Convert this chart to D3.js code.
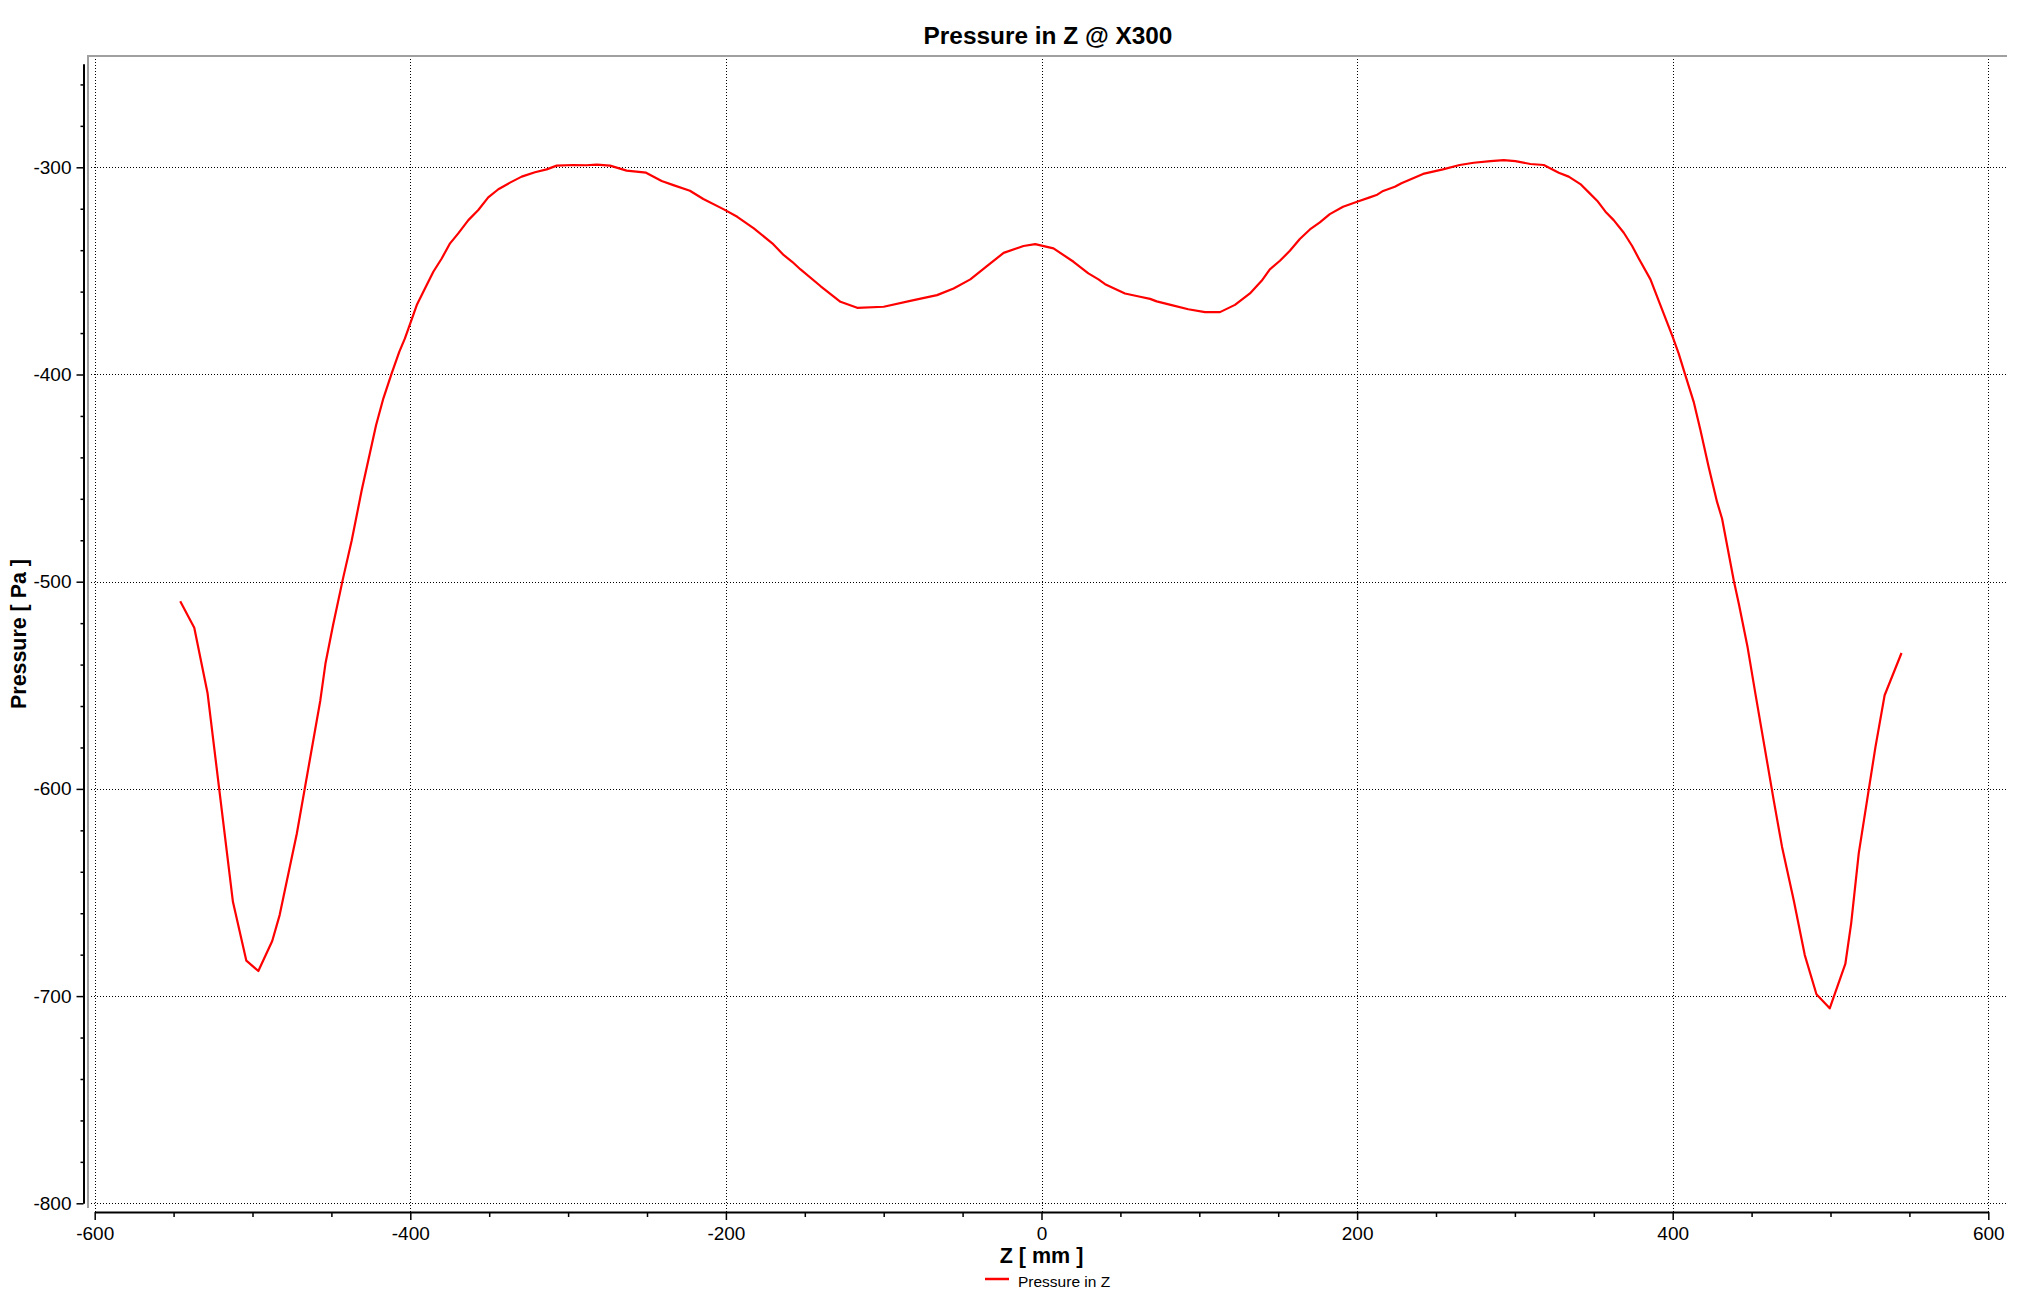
<!DOCTYPE html>
<html>
<head>
<meta charset="utf-8">
<script src="https://cdn.jsdelivr.net/npm/d3@7"></script>
<style>
	html, body { margin: 0; padding: 0; background: #fff; }
	svg { display: block; }
	.tick text { font-family: "Liberation Sans", Arial, sans-serif; fill: #000; }
</style>
</head>
<body>
<svg id="chart" width="2029" height="1309"></svg>
<script>
// values
var z_values = [
	-545.8, -536.9, -528.5, -512.4, -503.9, -496.3, -487.5, -482.8, -471.9, -457.0,
	-453.7, -449.0, -442.8, -437.1, -430.8, -421.7, -417.1, -411.8, -407.0, -403.4,
	-395.9, -390.7, -385.4, -380.1, -374.8, -369.6, -363.2, -356.9, -350.6, -344.2,
	-336.8, -329.4, -321.0, -313.6, -307.2, -296.7, -288.2, -281.9, -273.4, -262.9,
	-250.6, -240.7, -233.3, -222.8, -214.3, -201.3, -192.8, -182.3, -170.6, -163.3,
	-158.0, -152.7, -140.1, -127.4, -116.8, -100.0, -81.0, -66.2, -55.7, -45.1,
	-34.6, -24.0, -11.4, -4.0, 7.6, 20.3, 29.7, 36.1, 40.3, 52.9,
	62.5, 68.8, 73.0, 82.5, 93.0, 103.6, 113.1, 122.6, 132.1, 139.5,
	144.7, 151.1, 157.4, 163.7, 170.1, 176.4, 182.7, 191.1, 200.0, 208.0,
	212.3, 216.5, 223.9, 228.1, 241.8, 254.4, 265.0, 273.9, 284.5, 292.9,
	300.3, 309.8, 318.3, 327.8, 334.1, 341.5, 346.8, 352.1, 357.4, 362.6,
	369.0, 374.3, 378.5, 385.9, 392.2, 400.0, 403.8, 408.0, 413.3, 417.6,
	422.8, 428.1, 431.3, 434.5, 438.7, 442.0, 447.5, 452.4, 464.0, 469.3,
	476.7, 483.7, 491.1, 499.5, 509.4, 513.1, 517.9, 523.2, 528.5, 534.3,
	545.0
];
var pressure_values = [
	-509.4, -522.2, -553.7, -654.5, -682.9, -687.9, -673.4, -660.9, -621.5, -557.2,
	-539.2, -521.1, -499.0, -480.0, -455.9, -424.5, -411.6, -399.5, -389.1, -382.6,
	-366.5, -358.5, -350.4, -344.0, -336.7, -331.9, -325.5, -320.6, -314.5, -310.6,
	-307.4, -304.5, -302.4, -301.0, -299.2, -298.9, -299.0, -298.7, -299.2, -301.6,
	-302.6, -306.6, -308.6, -311.3, -315.3, -320.3, -323.9, -329.5, -336.7, -342.4,
	-345.6, -349.3, -357.3, -364.9, -367.8, -367.3, -364.1, -361.7, -358.5, -354.1,
	-347.7, -341.3, -338.0, -337.1, -339.1, -345.6, -351.2, -354.1, -356.4, -360.9,
	-362.5, -363.5, -364.7, -366.5, -368.5, -369.9, -369.9, -366.4, -360.9, -354.8,
	-349.3, -345.1, -340.3, -334.6, -330.0, -326.6, -322.6, -319.0, -316.6, -314.5,
	-313.4, -311.4, -309.4, -307.7, -303.2, -301.0, -298.9, -297.8, -297.0, -296.5,
	-297.0, -298.4, -298.9, -302.6, -304.5, -308.1, -312.1, -316.1, -321.4, -325.5,
	-331.6, -338.0, -344.0, -354.1, -366.5, -381.8, -389.9, -400.3, -413.2, -426.9,
	-444.6, -461.5, -469.6, -482.5, -499.4, -511.0, -531.8, -554.0, -605.4, -628.0,
	-653.7, -680.2, -699.1, -705.9, -684.5, -664.9, -631.1, -605.4, -579.7, -554.8,
	-534.4
];

var x_major_ticks = [-600, -400, -200, 0, 200, 400, 600];
var x_minor_ticks = [-550, -500, -450, -350, -300, -250, -150, -100, -50, 50, 100, 150, 250, 300, 350, 450, 500, 550];
var y_major_ticks = [-300, -400, -500, -600, -700, -800];
var y_minor_ticks = d3.range(-260, -800, -20).filter(function(d) { return d % 100 != 0; });

var chart_title = 'Pressure in Z @ X300';
var x_title = 'Z [ mm ]';
var y_title = 'Pressure [ Pa ]';
var series_name = 'Pressure in Z';

var FONT = '"Liberation Sans", Arial, sans-serif';
var PLOT_LEFT = 88, PLOT_RIGHT = 2006, PLOT_TOP = 56, PLOT_BOTTOM = 1212;
var LINE_COLOR = '#ff0000';

// plain hyphen minus like the original, not the unicode minus d3 uses
var plain_format = function(d) { return String(d); };

var svg = d3.select('#chart');

var x = d3.scaleLinear().domain([-600, 600]).range([94.7, 1988.3]);
var y = d3.scaleLinear().domain([-800, -250]).range([1203.3, 63.7]);

// grid
var grid = svg.append('g').attr('id', 'grid')
	.attr('stroke', '#000')
	.attr('stroke-width', 1)
	.attr('stroke-dasharray', '1,2');

grid.selectAll('.vgrid').data(x_major_ticks).enter().append('line')
	.attr('x1', function(d) { return Math.round(x(d)) + 0.5; })
	.attr('x2', function(d) { return Math.round(x(d)) + 0.5; })
	.attr('y1', PLOT_TOP)
	.attr('y2', PLOT_BOTTOM);

grid.selectAll('.hgrid').data(y_major_ticks).enter().append('line')
	.attr('x1', PLOT_LEFT)
	.attr('x2', PLOT_RIGHT)
	.attr('y1', function(d) { return Math.round(y(d)) + 0.5; })
	.attr('y2', function(d) { return Math.round(y(d)) + 0.5; });

// grey frame on top and left
svg.append('path')
	.attr('d', 'M' + PLOT_LEFT + ',' + (PLOT_BOTTOM - 4) + 'V' + PLOT_TOP + 'H' + (PLOT_RIGHT + 1))
	.attr('fill', 'none')
	.attr('stroke', '#a0a0a0')
	.attr('stroke-width', 2);

// axes
svg.append('g')
	.attr('id', 'x-axis')
	.attr('transform', 'translate(0,' + PLOT_BOTTOM + ')')
	.call(d3.axisBottom(x).tickValues(x_major_ticks).tickFormat(plain_format)
		.tickSize(8).tickSizeOuter(0).tickPadding(7));

svg.append('g')
	.attr('transform', 'translate(0,' + PLOT_BOTTOM + ')')
	.call(d3.axisBottom(x).tickValues(x_minor_ticks).tickSize(5).tickSizeOuter(0).tickFormat(''))
	.select('.domain').remove();

svg.append('g')
	.attr('id', 'y-axis')
	.attr('transform', 'translate(83.5,0)')
	.call(d3.axisLeft(y).tickValues(y_major_ticks).tickFormat(plain_format)
		.tickSize(7).tickSizeOuter(0).tickPadding(5));

svg.append('g')
	.attr('transform', 'translate(83.5,0)')
	.call(d3.axisLeft(y).tickValues(y_minor_ticks).tickSize(3).tickSizeOuter(0).tickFormat(''))
	.select('.domain').remove();

svg.selectAll('.domain').attr('stroke', '#000').attr('stroke-width', 2);
svg.selectAll('.tick line').attr('stroke', '#000').attr('stroke-width', 1.5);
svg.selectAll('.tick text')
	.style('font-family', FONT)
	.style('font-size', '19px');

// the line
var line = d3.line()
	.x(function(d) { return x(d[0]); })
	.y(function(d) { return y(d[1]); });

svg.append('path')
	.attr('id', 'line')
	.datum(d3.zip(z_values, pressure_values))
	.attr('fill', 'none')
	.attr('stroke', LINE_COLOR)
	.attr('stroke-width', 2.2)
	.attr('stroke-linejoin', 'round')
	.attr('d', line);

// texts
svg.append('text')
	.attr('x', 1048).attr('y', 44)
	.attr('text-anchor', 'middle')
	.style('font-family', FONT).style('font-weight', 'bold').style('font-size', '24.4px')
	.text(chart_title);

svg.append('text')
	.attr('x', x(0)).attr('y', 1263)
	.attr('text-anchor', 'middle')
	.style('font-family', FONT).style('font-weight', 'bold').style('font-size', '21.5px')
	.text(x_title);

svg.append('text')
	.attr('transform', 'translate(26,634) rotate(-90)')
	.attr('text-anchor', 'middle')
	.style('font-family', FONT).style('font-weight', 'bold').style('font-size', '21.4px')
	.text(y_title);

// legend
var legend = svg.append('g').attr('id', 'legend');
legend.append('line')
	.attr('x1', 985).attr('x2', 1009)
	.attr('y1', 1279).attr('y2', 1279)
	.attr('stroke', LINE_COLOR).attr('stroke-width', 2.5);
legend.append('text')
	.attr('x', 1018).attr('y', 1287)
	.style('font-family', FONT).style('font-size', '15.5px')
	.text(series_name);
</script>
</body>
</html>
